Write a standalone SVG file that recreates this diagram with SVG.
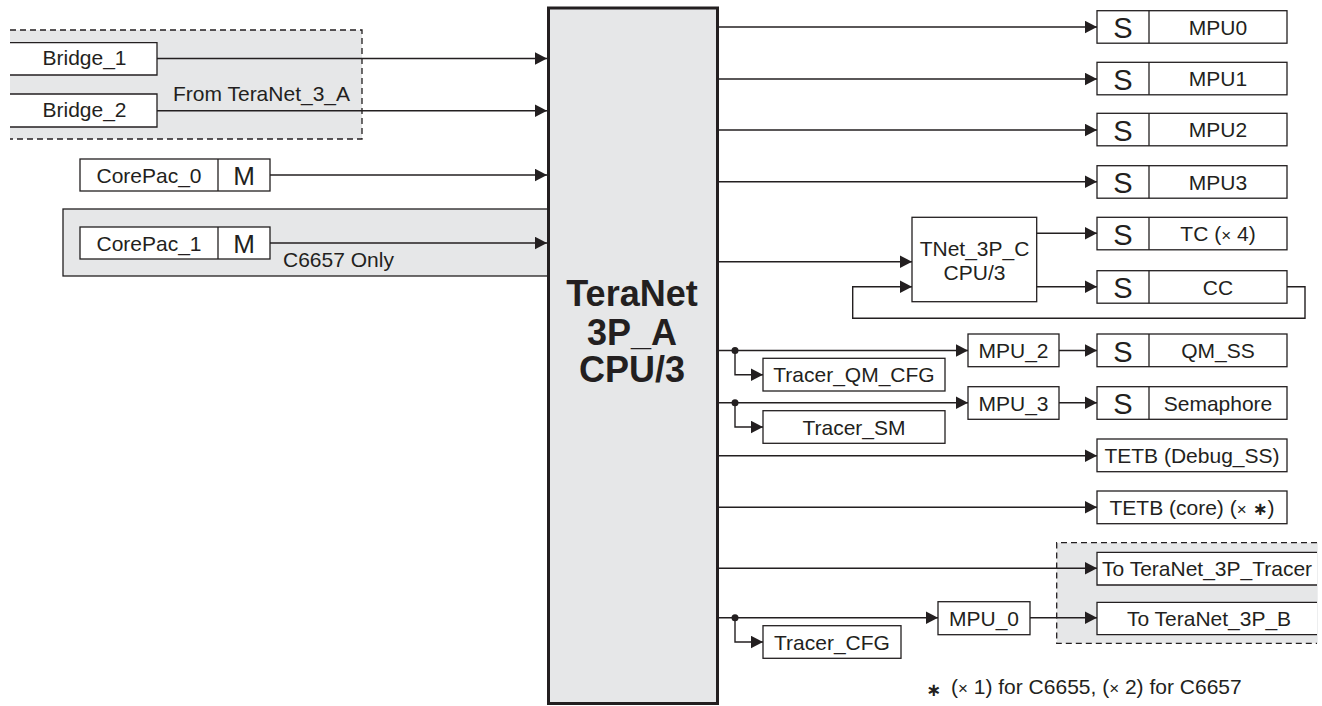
<svg xmlns="http://www.w3.org/2000/svg" width="1322" height="706" viewBox="0 0 1322 706">
<defs>
<marker id="ah" markerUnits="userSpaceOnUse" markerWidth="13" markerHeight="13" refX="12.5" refY="6.5" orient="auto">
<path d="M0,0 L12.5,6.5 L0,13 z" fill="#231f20"/>
</marker>
<style>
.box{fill:#fff;stroke:#231f20;stroke-width:1.3}
.ln{stroke:#231f20;stroke-width:1.3}
.gray{fill:#e6e7e8}
.dash{fill:none;stroke:#231f20;stroke-width:1.3;stroke-dasharray:6 4}
.t{font-family:"Liberation Sans",Arial,sans-serif;font-size:21px;fill:#231f20}
.c{text-anchor:middle}
.s{font-size:29px}
.m{font-size:26px}
.x{font-size:17px}
.st{font-family:"DejaVu Sans",sans-serif;font-weight:bold;font-size:18px}
.conn path{fill:none;stroke:#231f20;stroke-width:1.4}
.conn .a{marker-end:url(#ah)}
</style>
</defs>
<rect width="1322" height="706" fill="#fff"/>

<!-- regions -->
<g id="from-teranet-3a">
<rect class="gray" x="10" y="30" width="352" height="109"/>
<path class="dash" d="M10,30 H362 V139 H10"/>
<text class="t" x="173" y="101">From TeraNet_3_A</text>
</g>
<g id="c6657-only">
<rect class="gray" x="63" y="209" width="486" height="67" stroke="#231f20" stroke-width="1.3"/>
<text class="t" x="283" y="267">C6657 Only</text>
</g>
<g id="to-teranet-region">
<rect class="gray" x="1056.7" y="542.7" width="261" height="100.6"/>
<path class="dash" d="M1317,542.7 H1056.7 V643.3 H1317"/>
</g>

<!-- main -->
<g id="teranet-3p-a">
<rect x="548.5" y="8" width="169" height="695.5" fill="#e6e7e8" stroke="#231f20" stroke-width="3"/>
<text class="t c" x="632" y="306" style="font-size:36px;font-weight:bold">TeraNet</text>
<text class="t c" x="632" y="344.5" style="font-size:36px;font-weight:bold">3P_A</text>
<text class="t c" x="632" y="382" style="font-size:36px;font-weight:bold">CPU/3</text>
</g>

<!-- left nodes -->
<g id="bridge-1">
<rect x="10" y="42.7" width="147" height="32.3" fill="#fff"/>
<path d="M10,42.7 H157 V75 H10" fill="none" class="ln"/>
<text class="t c" x="84.5" y="65">Bridge_1</text>
</g>
<g id="bridge-2">
<rect x="10" y="94" width="147" height="33" fill="#fff"/>
<path d="M10,94 H157 V127 H10" fill="none" class="ln"/>
<text class="t c" x="84.5" y="117">Bridge_2</text>
</g>
<g id="corepac-0">
<rect class="box" x="80" y="159" width="190" height="32"/>
<line class="ln" x1="218" y1="159" x2="218" y2="191"/>
<text class="t c" x="149" y="182.5">CorePac_0</text>
<text class="t c m" x="244" y="185">M</text>
</g>
<g id="corepac-1">
<rect class="box" x="80" y="227" width="190" height="32"/>
<line class="ln" x1="218" y1="227" x2="218" y2="259"/>
<text class="t c" x="149" y="250.5">CorePac_1</text>
<text class="t c m" x="244" y="253">M</text>
</g>

<!-- right S nodes -->
<g id="mpu0">
<rect class="box" x="1097" y="10.7" width="190" height="32.5"/>
<line class="ln" x1="1149" y1="10.7" x2="1149" y2="43.2"/>
<text class="t c s" x="1123" y="38.2">S</text>
<text class="t c" x="1218" y="34.7">MPU0</text>
</g>
<g id="mpu1">
<rect class="box" x="1097" y="62.3" width="190" height="32.5"/>
<line class="ln" x1="1149" y1="62.3" x2="1149" y2="94.8"/>
<text class="t c s" x="1123" y="89.8">S</text>
<text class="t c" x="1218" y="86.3">MPU1</text>
</g>
<g id="mpu2">
<rect class="box" x="1097" y="113.3" width="190" height="32.5"/>
<line class="ln" x1="1149" y1="113.3" x2="1149" y2="145.8"/>
<text class="t c s" x="1123" y="140.8">S</text>
<text class="t c" x="1218" y="137.3">MPU2</text>
</g>
<g id="mpu3">
<rect class="box" x="1097" y="165.7" width="190" height="32.5"/>
<line class="ln" x1="1149" y1="165.7" x2="1149" y2="198.2"/>
<text class="t c s" x="1123" y="193.2">S</text>
<text class="t c" x="1218" y="189.7">MPU3</text>
</g>
<g id="tc">
<rect class="box" x="1097" y="217.3" width="190" height="32.5"/>
<line class="ln" x1="1149" y1="217.3" x2="1149" y2="249.8"/>
<text class="t c s" x="1123" y="244.8">S</text>
<text class="t c" x="1218" y="241.3">TC (<tspan class="x">×</tspan> 4)</text>
</g>
<g id="cc">
<rect class="box" x="1097" y="270.7" width="190" height="32.5"/>
<line class="ln" x1="1149" y1="270.7" x2="1149" y2="303.2"/>
<text class="t c s" x="1123" y="298.2">S</text>
<text class="t c" x="1218" y="294.7">CC</text>
</g>
<g id="qm-ss">
<rect class="box" x="1097" y="334" width="190" height="32.7"/>
<line class="ln" x1="1149" y1="334" x2="1149" y2="366.7"/>
<text class="t c s" x="1123" y="361.5">S</text>
<text class="t c" x="1218" y="358">QM_SS</text>
</g>
<g id="semaphore">
<rect class="box" x="1097" y="386.7" width="190" height="32.6"/>
<line class="ln" x1="1149" y1="386.7" x2="1149" y2="419.3"/>
<text class="t c s" x="1123" y="414.2">S</text>
<text class="t c" x="1218" y="410.7">Semaphore</text>
</g>
<g id="tetb-debug">
<rect class="box" x="1097" y="439" width="190" height="32.7"/>
<text class="t c" x="1192" y="463">TETB (Debug_SS)</text>
</g>
<g id="tetb-core">
<rect class="box" x="1097" y="491" width="190" height="32.7"/>
<text class="t c" x="1192" y="515">TETB (core) (<tspan class="x">×</tspan> <tspan class="st">∗</tspan>)</text>
</g>
<g id="to-teranet-3p-tracer">
<rect x="1097" y="552.3" width="220" height="32.7" fill="#fff"/>
<path d="M1317,552.3 H1097 V585 H1317" fill="none" class="ln"/>
<text class="t" x="1102" y="576.3">To TeraNet_3P_Tracer</text>
</g>
<g id="to-teranet-3p-b">
<rect x="1097" y="602.3" width="220" height="32.4" fill="#fff"/>
<path d="M1317,602.3 H1097 V634.7 H1317" fill="none" class="ln"/>
<text class="t c" x="1209" y="626.3">To TeraNet_3P_B</text>
</g>

<!-- middle nodes -->
<g id="tnet-3p-c">
<rect class="box" x="912" y="217.3" width="124.7" height="84.4"/>
<text class="t c" x="974.5" y="256">TNet_3P_C</text>
<text class="t c" x="974.5" y="280">CPU/3</text>
</g>
<g id="mpu-2">
<rect class="box" x="968" y="334" width="91" height="32.7"/>
<text class="t c" x="1013.5" y="358">MPU_2</text>
</g>
<g id="mpu-3">
<rect class="box" x="968" y="386.7" width="91" height="32.6"/>
<text class="t c" x="1013.5" y="410.7">MPU_3</text>
</g>
<g id="mpu-0">
<rect class="box" x="938" y="601.7" width="92" height="33"/>
<text class="t c" x="984" y="626">MPU_0</text>
</g>
<g id="tracer-qm-cfg">
<rect class="box" x="763" y="358.3" width="182" height="32.7"/>
<text class="t c" x="854" y="382.3">Tracer_QM_CFG</text>
</g>
<g id="tracer-sm">
<rect class="box" x="763" y="410.7" width="182" height="32.6"/>
<text class="t c" x="854" y="434.7">Tracer_SM</text>
</g>
<g id="tracer-cfg">
<rect class="box" x="763" y="625.7" width="138" height="32.6"/>
<text class="t c" x="832" y="649.7">Tracer_CFG</text>
</g>

<!-- connectors -->
<g id="connectors" class="conn">
<path class="a" d="M157,58.5 H547"/>
<path class="a" d="M157,110.7 H547"/>
<path class="a" d="M270,175 H547"/>
<path class="a" d="M270,243 H547"/>
<path class="a" d="M719,27 H1097"/>
<path class="a" d="M719,79 H1097"/>
<path class="a" d="M719,130 H1097"/>
<path class="a" d="M719,181.7 H1097"/>
<path class="a" d="M719,261.7 H912"/>
<path class="a" d="M1036.7,233.3 H1097"/>
<path class="a" d="M1036.7,286.7 H1097"/>
<path class="a" d="M1287,286.7 H1305 V318.3 H852.7 V286.7 H912"/>
<path class="a" d="M719,350.5 H968"/>
<path class="a" d="M1059,350.5 H1097"/>
<path class="a" d="M735,350.5 V374.7 H763"/>
<path class="a" d="M719,402.7 H968"/>
<path class="a" d="M1059,402.7 H1097"/>
<path class="a" d="M735,402.7 V427 H763"/>
<path class="a" d="M719,455.7 H1097"/>
<path class="a" d="M719,507.3 H1097"/>
<path class="a" d="M719,568.3 H1097"/>
<path class="a" d="M719,617.7 H938"/>
<path class="a" d="M1030,617.7 H1097"/>
<path class="a" d="M735,617.7 V642 H763"/>
<circle cx="735" cy="350.5" r="3.5" fill="#231f20"/>
<circle cx="735" cy="402.7" r="3.5" fill="#231f20"/>
<circle cx="735" cy="617.7" r="3.5" fill="#231f20"/>
</g>

<!-- footnote -->
<g id="footnote">
<text class="t st" x="926" y="696">∗</text>
<text class="t" x="951" y="694.3">(<tspan class="x">×</tspan> 1) for C6655, (<tspan class="x">×</tspan> 2) for C6657</text>
</g>
</svg>
